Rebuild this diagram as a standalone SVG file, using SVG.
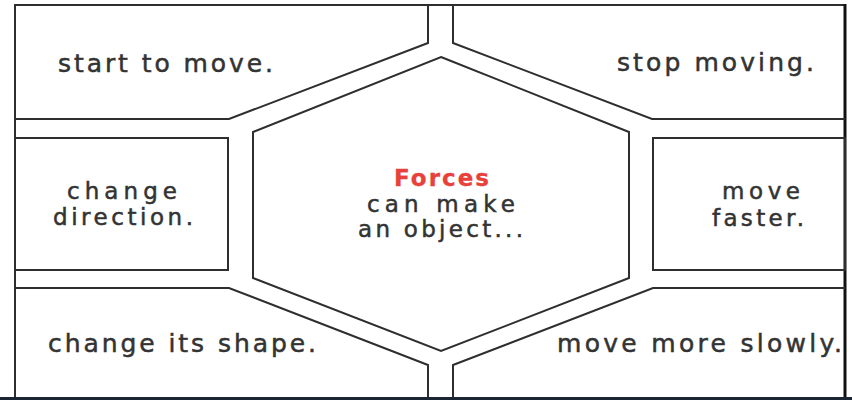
<svg xmlns="http://www.w3.org/2000/svg" width="852" height="400" viewBox="0 0 852 400">
<style>
.ln{fill:none;stroke:#2e2e2e;stroke-width:2;stroke-linejoin:miter}
.t{font-family:"DejaVu Sans","Noto Sans","Liberation Sans",sans-serif;fill:#333;stroke:#333;stroke-width:0.5}
.c{font-size:25px}
.s{font-size:23px}
.red{fill:#e8403a;stroke:#e8403a;stroke-width:0.3;font-weight:bold}
</style>
<rect width="852" height="400" fill="#fff"/>
<g id="frame">
<line class="ln" x1="15" y1="5" x2="846" y2="5"/>
<line class="ln" x1="15" y1="4" x2="15" y2="397"/>
<line x1="845" y1="4" x2="845" y2="397" stroke="#111" stroke-width="3"/>
<rect x="0" y="397" width="852" height="3" fill="#1c2533"/>
</g>
<g id="connectors">
<polyline class="ln" points="15,119 229,119 428,43 428,5"/>
<polyline class="ln" points="453,5 453,43 652,119 845,119"/>
<polyline class="ln" points="15,288 229,288 428,365 428,397"/>
<polyline class="ln" points="453,397 453,365 653,288 845,288"/>
</g>
<g id="node-start">
<text class="t c" x="58" y="72" textLength="215" lengthAdjust="spacing">start to move.</text>
</g>
<g id="node-stop">
<text class="t c" x="617" y="71" textLength="197" lengthAdjust="spacing">stop moving.</text>
</g>
<g id="node-direction">
<rect class="ln" x="15" y="138" width="213" height="132"/>
<text class="t s" x="67" y="199" textLength="110" lengthAdjust="spacing">change</text>
<text class="t s" x="53" y="225" textLength="140" lengthAdjust="spacing">direction.</text>
</g>
<g id="node-faster">
<rect class="ln" x="653" y="138" width="192" height="132"/>
<text class="t s" x="722" y="199" textLength="78" lengthAdjust="spacing">move</text>
<text class="t s" x="712" y="226" textLength="92" lengthAdjust="spacing">faster.</text>
</g>
<g id="node-center">
<polygon class="ln" points="441,57 629,132 629,278 441,351 253,278 253,132"/>
<text class="t s red" x="394" y="186" textLength="95" lengthAdjust="spacing">Forces</text>
<text class="t s" x="367" y="212" textLength="148" lengthAdjust="spacing">can make</text>
<text class="t s" x="358" y="237" textLength="165" lengthAdjust="spacing">an object...</text>
</g>
<g id="node-shape">
<text class="t c" x="48" y="352" textLength="268" lengthAdjust="spacing">change its shape.</text>
</g>
<g id="node-slowly">
<text class="t c" x="557" y="352" textLength="285" lengthAdjust="spacing">move more slowly.</text>
</g>
</svg>
